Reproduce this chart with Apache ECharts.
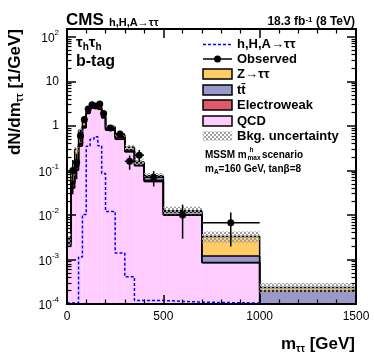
<!DOCTYPE html>
<html>
<head>
<meta charset="utf-8">
<script src="https://cdn.jsdelivr.net/npm/echarts@6/dist/echarts.min.js"></script>
<style>
html, body { margin: 0; padding: 0; background: #fff; }
#main { width: 374px; height: 359px; }
</style>
</head>
<body>
<div id="main"></div>
<script>
// m_tautau bin edges (GeV)
const binEdges = [0, 20, 40, 60, 80, 100, 120, 140, 160, 180, 200, 250, 300, 350, 400, 500, 700, 1000, 1500];
// dN/dm (1/GeV) per bin, backgrounds stacked bottom -> top
const qcd   = [0.002, 0.04, 0.1, 0.35, 0.9, 1.9, 2.5, 2.6, 2.35, 1.5, 0.8, 0.5, 0.26, 0.127, 0.056, 0.0098, 0.00084, 0.00002];
const ewk   = [0.0002, 0.01, 0.02, 0.03, 0.05, 0.08, 0.1, 0.12, 0.1, 0.07, 0.04, 0.04, 0.012, 0.006, 0.004, 0.0003, 0.00002, 0.000002];
const ttbar = [0.0002, 0.005, 0.01, 0.02, 0.04, 0.05, 0.06, 0.07, 0.07, 0.06, 0.05, 0.03, 0.02, 0.015, 0.012, 0.0015, 0.00034, 0.000174];
const ztt   = [0.0005, 0.035, 0.17, 0.4, 0.51, 0.47, 0.34, 0.21, 0.18, 0.17, 0.08, 0.06, 0.04, 0.007, 0.004, 0.0009, 0.0021, 0.00004];
// relative background uncertainty per bin
const bkgUnc = [0.3, 0.15, 0.12, 0.1, 0.08, 0.07, 0.07, 0.07, 0.07, 0.08, 0.08, 0.1, 0.12, 0.14, 0.15, 0.22, 0.28, 0.25];
// signal h,H,A -> tautau (mA=160, tanb=8)
const signal = [1.05e-4, 1.05e-4, 1.05e-4, 1.14e-3, 0.0102, 0.35, 0.5, 0.57, 0.36, 0.085, 0.012, 0.0014, 4.1e-4, 1.2e-4, 1.2e-4, 1.1e-4, 1.05e-4, 5e-5];
// observed events per bin (null = none drawn)
const obsCounts = [null, 2, 3, 12, 28, 48, 60, 56, 62, 38, 45, 33, 8, 11, 7, 2, 2, null];

const yMajor = [1e-4, 1e-3, 1e-2, 1e-1, 1, 10, 100];
const yMinor = [];
yMajor.forEach(d => { for (let k = 2; k <= 9; k++) if (d * k < 150) yMinor.push(d * k); });

const FONT = 'Liberation Sans, Arial, Helvetica, sans-serif';
const cols = { qcd: '#ffccff', ewk: '#de5a6a', tt: '#9999cc', ztt: '#ffcc66' };
const stackOrder = [qcd, ewk, ttbar, ztt];
const stackCols = [cols.qcd, cols.ewk, cols.tt, cols.ztt];
const FLOOR = 1e-7;

// cumulative tops of the stack, per component per bin
const cumTops = [];
stackOrder.forEach((arr, k) => {
  cumTops.push(arr.map((v, i) => v + (k ? cumTops[k - 1][i] : 0)));
});
const totals = cumTops[cumTops.length - 1];
const nb = binEdges.length - 1;
const binData = [];
for (let i = 0; i < nb; i++) binData.push([binEdges[i], binEdges[i + 1], totals[i], i]);

const uncData = totals.map((t, i) => [binEdges[i], binEdges[i + 1], t * (1 - bkgUnc[i]), t * (1 + bkgUnc[i])]);
const obsData = [];
obsCounts.forEach((n, i) => {
  if (n == null) return;
  const w = binEdges[i + 1] - binEdges[i];
  const e = Math.sqrt(n);
  obsData.push([binEdges[i], binEdges[i + 1], n / w, Math.max(n - e, 1e-3) / w, (n + e) / w]);
});

function stepData(vals) {
  const d = vals.map((v, i) => [binEdges[i], v]);
  d.push([binEdges[binEdges.length - 1], vals[vals.length - 1]]);
  return d;
}

// checker pattern for bkg. uncertainty
const pat = document.createElement('canvas');
pat.width = 4; pat.height = 4;
const pc = pat.getContext('2d');
pc.fillStyle = '#a0a0a0';
pc.fillRect(0, 0, 2, 2); pc.fillRect(2, 2, 2, 2);
const hatch = { image: pat, repeat: 'repeat' };

const chart = echarts.init(document.getElementById('main'), null, { renderer: 'canvas' });

// text with a subscript, main/sub sizes in px
function subText(x, y, parts, size, subSize, align) {
  const rich = {
    a: { font: 'bold ' + size + 'px ' + FONT, fill: '#000', verticalAlign: 'top', lineHeight: size + 2 },
    s: { font: 'bold ' + subSize + 'px ' + FONT, fill: '#000', verticalAlign: 'bottom', lineHeight: size + 2 }
  };
  const text = parts.map((p, i) => '{' + (i % 2 ? 's' : 'a') + '|' + p + '}').join('');
  return { type: 'text', x: x, y: y, style: { text: text, rich: rich, textAlign: align || 'left', textVerticalAlign: 'middle' } };
}
function txt(x, y, s, size, extra) {
  return { type: 'text', x: x, y: y, style: Object.assign({ text: s, font: 'bold ' + size + 'px ' + FONT, fill: '#000', textVerticalAlign: 'middle' }, extra || {}) };
}

const legendX = 203, legendTextX = 237;
const legendRows = [
  { y: 74, label: 'Z→ττ', fill: cols.ztt },
  { y: 90, label: 'tt̄', fill: cols.tt },
  { y: 105, label: 'Electroweak', fill: cols.ewk },
  { y: 121, label: 'QCD', fill: cols.qcd }
];
const graphics = [];
// header
graphics.push(txt(66, 29, 'CMS', 17, { textVerticalAlign: 'bottom' }));
graphics.push(txt(109, 28, 'h,H,A→ττ', 11, { textVerticalAlign: 'bottom' }));
graphics.push({ type: 'text', x: 355, y: 28, style: {
  text: '{a|18.3 fb}{s|-1}{a| (8 TeV)}', textAlign: 'right', textVerticalAlign: 'bottom',
  rich: { a: { font: 'bold 12px ' + FONT, fill: '#000', verticalAlign: 'bottom' }, s: { font: 'bold 8px ' + FONT, fill: '#000', verticalAlign: 'top' } } } });
// category
graphics.push(subText(76, 44, ['τ', 'h', 'τ', 'h'], 15, 10));
graphics.push(txt(76, 62, 'b-tag', 16));
// legend
graphics.push({ type: 'line', shape: { x1: legendX, y1: 44.5, x2: legendX + 29, y2: 44.5 }, style: { stroke: '#0000ff', lineWidth: 1.5, lineDash: [3, 2] } });
graphics.push(txt(legendTextX, 44.5, 'h,H,A→ττ', 13));
graphics.push({ type: 'line', shape: { x1: legendX, y1: 59, x2: legendX + 29, y2: 59 }, style: { stroke: '#000', lineWidth: 1.5 } });
graphics.push({ type: 'circle', shape: { cx: legendX + 14.5, cy: 59, r: 3.5 }, style: { fill: '#000' } });
graphics.push(txt(legendTextX, 59, 'Observed', 13));
legendRows.forEach(r => {
  graphics.push({ type: 'rect', shape: { x: legendX, y: r.y - 5, width: 29, height: 10 }, style: { fill: r.fill, stroke: '#000', lineWidth: 1.5 } });
  graphics.push(txt(legendTextX, r.y, r.label, 13));
});
graphics.push({ type: 'rect', shape: { x: legendX, y: 131.5, width: 29, height: 9 }, style: { fill: hatch, stroke: '#ccc', lineWidth: 0.5 } });
graphics.push(txt(legendTextX, 136, 'Bkg. uncertainty', 13));
graphics.push(txt(205, 155, 'MSSM m', 10));
graphics.push(txt(247.5, 158, 'max', 6.5));
graphics.push(txt(249.5, 150.5, 'h', 6.5));
graphics.push(txt(262, 155, 'scenario', 10));
graphics.push(subText(205, 170, ['m', 'A', '=160 GeV, tanβ=8'], 10, 6.5));
// axis titles
graphics.push(subText(355, 345, ['m', 'ττ', ' [GeV]'], 17, 10, 'right'));
graphics.push(Object.assign(subText(16, 29, ['dN/dm', 'ττ', ' [1/GeV]'], 17, 10, 'right'), { rotation: Math.PI / 2 }));

function yLabel(v) {
  const e = Math.round(Math.log10(v));
  if (e === 0) return '1';
  if (e === 1) return '10';
  return '{b|10}{e|' + e + '}';
}

const xBase = {
  type: 'value', min: 0, max: 1500, interval: 500, z: 10,
  axisLine: { show: true, lineStyle: { color: '#000', width: 2 } },
  axisTick: { show: true, inside: true, length: 9, lineStyle: { color: '#000', width: 1.5 } },
  minorTick: { show: true, splitNumber: 5, length: 4.5, lineStyle: { color: '#000', width: 1.2 } },
  splitLine: { show: false }
};
const yBase = {
  type: 'log', logBase: 10, min: 1e-4, max: 150, z: 10,
  splitLine: { show: false }
};

chart.setOption({
  animation: false,
  backgroundColor: '#fff',
  grid: { left: 67, right: 18, top: 29, bottom: 55, containLabel: false, outerBoundsMode: 'none' },
  xAxis: [
    Object.assign({}, xBase, { position: 'bottom',
      axisLabel: { show: true, margin: 7, color: '#000', fontSize: 12, fontFamily: FONT, formatter: v => String(v) } }),
    Object.assign({}, xBase, { position: 'top', axisLabel: { show: false } })
  ],
  yAxis: [
    Object.assign({}, yBase, { position: 'left',
      axisLine: { show: true, lineStyle: { color: '#000', width: 2 } },
      axisTick: { show: true, inside: true, length: 9, customValues: yMajor, lineStyle: { color: '#000', width: 1.5 } },
      axisLabel: { show: true, margin: 8, customValues: yMajor, formatter: yLabel, color: '#000', fontSize: 12, fontFamily: FONT,
        rich: { b: { fontSize: 12, fontFamily: FONT, color: '#000', verticalAlign: 'bottom', lineHeight: 16 },
                e: { fontSize: 8, fontFamily: FONT, color: '#000', verticalAlign: 'top', lineHeight: 16 } } } }),
    Object.assign({}, yBase, { position: 'left',
      axisLine: { show: false },
      axisTick: { show: true, inside: true, length: 4.5, customValues: yMinor, lineStyle: { color: '#000', width: 1.2 } },
      axisLabel: { show: false } }),
    Object.assign({}, yBase, { position: 'right',
      axisLine: { show: true, lineStyle: { color: '#000', width: 2 } },
      axisTick: { show: true, inside: true, length: 9, customValues: yMajor, lineStyle: { color: '#000', width: 1.5 } },
      axisLabel: { show: false } }),
    Object.assign({}, yBase, { position: 'right',
      axisLine: { show: false },
      axisTick: { show: true, inside: true, length: 4.5, customValues: yMinor, lineStyle: { color: '#000', width: 1.2 } },
      axisLabel: { show: false } })
  ],
  graphic: graphics,
  series: [
    {
      // stacked backgrounds: fills
      name: 'Backgrounds', type: 'custom', z: 2, clip: true,
      data: binData,
      encode: { x: [0, 1], y: 2 },
      renderItem: function (params, api) {
        const x0 = api.value(0), x1 = api.value(1), i = api.value(3);
        const children = [];
        for (let k = 0; k < stackOrder.length; k++) {
          const lo = k ? cumTops[k - 1][i] : FLOOR;
          const hi = cumTops[k][i];
          const a = api.coord([x0, hi]);
          const b = api.coord([x1, lo]);
          children.push({ type: 'rect', shape: { x: a[0], y: a[1], width: b[0] - a[0], height: b[1] - a[1] },
            style: { fill: stackCols[k] } });
        }
        return { type: 'group', children: children };
      }
    },
    {
      // stacked backgrounds: step outlines
      name: 'Outlines', type: 'custom', z: 3, clip: true,
      data: binData,
      encode: { x: [0, 1], y: 2 },
      renderItem: function (params, api) {
        const x0 = api.value(0), x1 = api.value(1), i = api.value(3);
        const children = [];
        for (let k = 0; k < stackOrder.length; k++) {
          const a = api.coord([x0, cumTops[k][i]]);
          const b = api.coord([x1, cumTops[k][i]]);
          children.push({ type: 'line', shape: { x1: a[0], y1: a[1], x2: b[0], y2: b[1] },
            style: { stroke: '#000', lineWidth: 1.5 } });
          if (i < nb - 1) {
            const c = api.coord([x1, cumTops[k][i + 1]]);
            children.push({ type: 'line', shape: { x1: b[0], y1: b[1], x2: c[0], y2: c[1] },
              style: { stroke: '#000', lineWidth: 1.5 } });
          }
        }
        return { type: 'group', children: children };
      }
    },
    {
      name: 'Bkg. uncertainty', type: 'custom', z: 4, clip: true,
      data: uncData,
      encode: { x: [0, 1], y: [2, 3] },
      renderItem: function (params, api) {
        const p0 = api.coord([api.value(0), api.value(3)]);
        const p1 = api.coord([api.value(1), api.value(2)]);
        return { type: 'rect', shape: { x: p0[0], y: p0[1], width: p1[0] - p0[0], height: p1[1] - p0[1] },
          style: { fill: hatch } };
      }
    },
    {
      name: 'signal', type: 'line', step: 'end', data: stepData(signal), symbol: 'none', z: 5,
      lineStyle: { color: '#0000ff', width: 1.5, type: [3, 2] }
    },
    {
      name: 'Observed', type: 'custom', z: 6, clip: true,
      data: obsData,
      encode: { x: [0, 1], y: [2, 3, 4] },
      renderItem: function (params, api) {
        const x0 = api.value(0), x1 = api.value(1), xc = (x0 + x1) / 2;
        const c = api.coord([xc, api.value(2)]);
        const l = api.coord([x0, api.value(2)]);
        const r = api.coord([x1, api.value(2)]);
        const lo = api.coord([xc, api.value(3)]);
        const hi = api.coord([xc, api.value(4)]);
        return { type: 'group', children: [
          { type: 'line', shape: { x1: l[0], y1: l[1], x2: r[0], y2: r[1] }, style: { stroke: '#000', lineWidth: 1.5 } },
          { type: 'line', shape: { x1: c[0], y1: lo[1], x2: c[0], y2: hi[1] }, style: { stroke: '#000', lineWidth: 1.5 } },
          { type: 'circle', shape: { cx: c[0], cy: c[1], r: 3.5 }, style: { fill: '#000' } }
        ] };
      }
    }
  ]
});
</script>
</body>
</html>
